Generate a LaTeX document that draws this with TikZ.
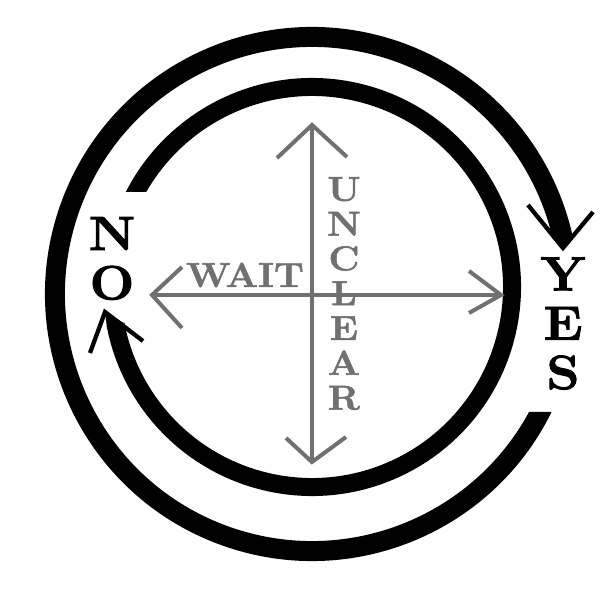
\documentclass[tikz,border=0pt]{standalone}
\usepackage{fontspec}
\setmainfont{Latin Modern Roman}
\newfontfamily\bigfont[FakeBold=2,FakeStretch=1.1]{Latin Modern Roman}
\newfontfamily\smallfont[FakeBold=1.5,FakeStretch=1.1]{Latin Modern Roman}
\definecolor{crossgray}{RGB}{112,112,112}
\begin{document}
\begin{tikzpicture}[x=0.75pt,y=0.75pt,
  ring/.style={line width=15pt, black},
  inring/.style={line width=13.5pt, black},
  head/.style={line width=3.2pt, black},
  cross/.style={line width=3pt, draw=crossgray},
  crosshead/.style={line width=3pt, draw=crossgray},
  big/.style={font=\fontsize{36}{37}\bigfont\bfseries, inner sep=0pt, align=center},
  small/.style={font=\fontsize{26}{26.1}\smallfont\bfseries, text=crossgray, inner sep=0pt, align=center}]
\useasboundingbox (0,0) rectangle (600,600);
% centres
\coordinate (O1) at (312,306);
\coordinate (O2) at (312,313);
% outer ring, ends with arrow at YES
\begin{scope}
  \clip (0,0) -- (600,0) -- (600,188) -- (450,188) -- (450,300) -- (600,300) -- (600,600) -- (0,600) -- cycle;
  \draw[ring] ([shift={(-20:257)}]O1) arc[start angle=-20, end angle=-347.2, radius=257];
\end{scope}
\coordinate (tipA) at (563,352);
\fill ([shift={(13:267)}]O1) -- (tipA) -- ([shift={(13:247)}]O1) -- cycle;
\coordinate (armA1) at (528,395);
\coordinate (armA2) at (593,388);
\draw[head] (armA1) -- (tipA) -- (armA2);
% inner ring, ends with arrow at NO
\begin{scope}
  \clip (0,0) -- (600,0) -- (600,600) -- (0,600) -- (0,408) -- (220,408) -- (220,330) -- (0,330) -- cycle;
  \draw[inring] ([shift={(165:200)}]O2) arc[start angle=165, end angle=-169.2, radius=200];
\end{scope}
\coordinate (tipB) at (105,288);
\fill ([shift={(-169:209)}]O2) -- (tipB) -- ([shift={(-169:191)}]O2) -- cycle;
\coordinate (armB1) at (90,247);
\coordinate (armB2) at (143,259);
\draw[head] (armB1) -- (tipB) -- (armB2);
% grey cross
\coordinate (T) at (312,475);
\coordinate (B) at (312,138);
\coordinate (L) at (152,305);
\coordinate (R) at (501,305);
\draw[cross] (B) -- (T);
\draw[cross] (L) -- (R);
\coordinate (T1) at (277,442); \coordinate (T2) at (347,443);
\coordinate (B1) at (286,162); \coordinate (B2) at (346,163);
\coordinate (L1) at (182,333); \coordinate (L2) at (182,272);
\coordinate (R1) at (469,329); \coordinate (R2) at (469,287);
\draw[crosshead] (T1) -- (T) -- (T2);
\draw[crosshead] (B1) -- (B) -- (B2);
\draw[crosshead] (L1) -- (L) -- (L2);
\draw[crosshead] (R1) -- (R) -- (R2);
% labels
\node[big] (no) at (112,341.5) {N\\O};
\node[big] (yes) at (563,276.5) {Y\\E\\S};
\node[small] (wait) at (245,325) {WAIT};
\node[small] (unclear) at (344,306.5) {U\\N\\C\\L\\E\\A\\R};
\end{tikzpicture}
\end{document}
